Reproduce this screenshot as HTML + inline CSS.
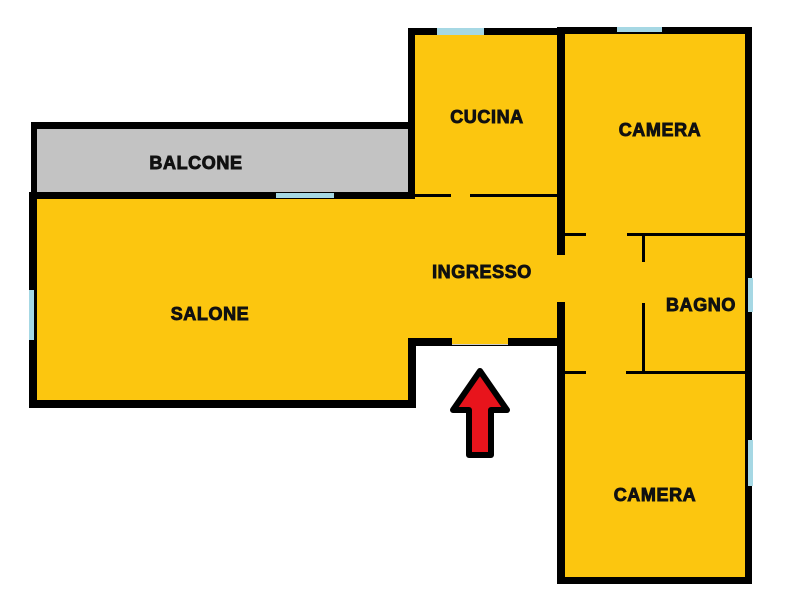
<!DOCTYPE html>
<html><head><meta charset="utf-8"><style>html,body{margin:0;padding:0;background:#fff}svg{display:block}text{font-family:"Liberation Sans",Arial,sans-serif;font-weight:bold;font-size:18px;fill:#111;stroke:#111;stroke-width:0.9;letter-spacing:0.6px}</style></head><body>
<svg width="791" height="614" viewBox="0 0 791 614" xmlns="http://www.w3.org/2000/svg">
<rect x="35" y="126" width="376" height="68" fill="#c3c3c3"/>
<polygon points="33,196 412,196 412,31 749,31 749,581 561,581 561,342 412,342 412,404 33,404" fill="#fcc60f"/>
<g fill="#000">
<rect x="31" y="122" width="384" height="7"/>
<rect x="31" y="122" width="6" height="76"/>
<rect x="29" y="192" width="386" height="7"/>
<rect x="408" y="28" width="7" height="170"/>
<rect x="408" y="28" width="157" height="7"/>
<rect x="557" y="27" width="195" height="7"/>
<rect x="29" y="192" width="8" height="216"/>
<rect x="29" y="400" width="387" height="8"/>
<rect x="408" y="338" width="8" height="70"/>
<rect x="408" y="338" width="157" height="8"/>
<rect x="557" y="27" width="8" height="228"/>
<rect x="557" y="302" width="8" height="282"/>
<rect x="745" y="27" width="7" height="557"/>
<rect x="557" y="577" width="195" height="7"/>
<rect x="415" y="194" width="36" height="3"/>
<rect x="470" y="194" width="88" height="3"/>
<rect x="565" y="233" width="21" height="3"/>
<rect x="627" y="233" width="120" height="3"/>
<rect x="642" y="233" width="3" height="29"/>
<rect x="642" y="303" width="3" height="70"/>
<rect x="565" y="371" width="21" height="3"/>
<rect x="626" y="371" width="121" height="3"/>
</g>
<rect x="452" y="338" width="56" height="7" fill="#fcc60f"/>
<rect x="452" y="344" width="56" height="1" fill="#ccc"/>
<g fill="#a6d8e4">
<rect x="437" y="28" width="47" height="7"/>
<rect x="617" y="27" width="45" height="5"/>
<rect x="276" y="193" width="58" height="5"/>
<rect x="29" y="290" width="5" height="50"/>
<rect x="748" y="278" width="5" height="34"/>
<rect x="748" y="440" width="5" height="46"/>
</g>
<polygon points="480,371 507,410 491,410 491,455 469,455 469,410 453,410" fill="#e8141c" stroke="#000" stroke-width="6" stroke-linejoin="round"/>
<text x="196" y="169" text-anchor="middle">BALCONE</text>
<text x="487" y="123" text-anchor="middle">CUCINA</text>
<text x="660" y="136" text-anchor="middle">CAMERA</text>
<text x="482" y="278" text-anchor="middle">INGRESSO</text>
<text x="210" y="320" text-anchor="middle">SALONE</text>
<text x="701" y="311" text-anchor="middle">BAGNO</text>
<text x="655" y="501" text-anchor="middle">CAMERA</text>
</svg>
</body></html>
